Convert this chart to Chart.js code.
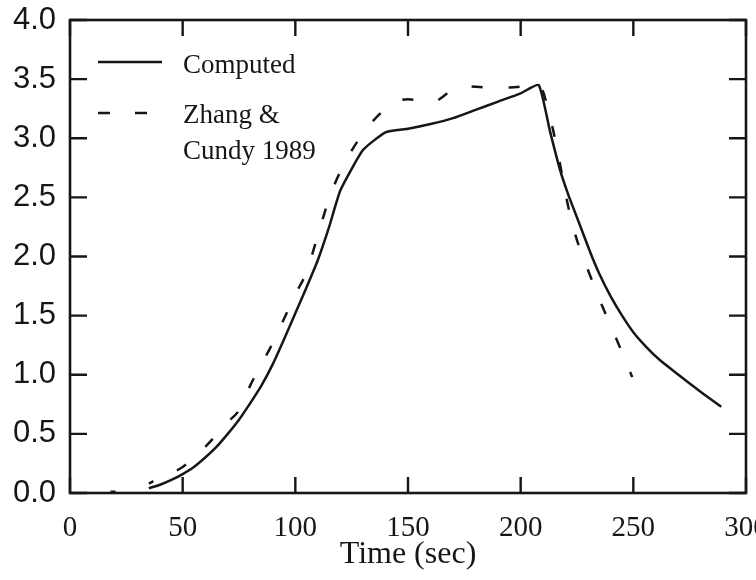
<!DOCTYPE html>
<html>
<head>
<meta charset="utf-8">
<script src="https://cdn.jsdelivr.net/npm/chart.js@4.4.1/dist/chart.umd.min.js"></script>
<style>
  html, body { margin: 0; padding: 0; background: #ffffff; }
  canvas { display: block; }
</style>
</head>
<body>
<canvas id="c" width="756" height="580"></canvas>
<script>
// ---- data ----
const computedTime = [35, 40, 45, 50, 55, 60, 65, 70, 75, 80, 85, 90, 95, 100, 105, 110, 115, 120, 130, 140, 150, 160, 170, 180, 190, 200, 208, 213, 217.5, 221, 225, 231, 235, 240, 245, 250, 256, 262, 268, 274, 281, 289];
const computedVal  = [0.04, 0.07, 0.11, 0.16, 0.22, 0.30, 0.39, 0.50, 0.62, 0.76, 0.91, 1.09, 1.30, 1.52, 1.74, 1.97, 2.25, 2.56, 2.90, 3.05, 3.08, 3.12, 3.17, 3.24, 3.31, 3.38, 3.45, 3.06, 2.73, 2.53, 2.33, 2.03, 1.85, 1.66, 1.50, 1.36, 1.23, 1.12, 1.03, 0.94, 0.84, 0.73];

const zhangTime = [18, 23, 29, 35, 40, 50, 60, 70, 75, 80, 90, 100, 105, 110, 115, 120, 130, 140, 145, 150, 160, 170, 175, 185, 195, 208, 214, 217, 220, 224, 230, 236, 243, 249.5];
const zhangVal  = [0.01, 0.01, null, 0.08, 0.13, 0.22, 0.39, 0.60, 0.70, 0.91, 1.27, 1.68, 1.87, 2.18, 2.49, 2.72, 3.04, 3.25, 3.31, 3.33, 3.30, 3.41, 3.44, 3.43, 3.43, 3.45, 3.10, 2.83, 2.52, 2.20, 1.88, 1.59, 1.28, 0.98];

const xTicks = [0, 50, 100, 150, 200, 250, 300];
const yTicks = [0.0, 0.5, 1.0, 1.5, 2.0, 2.5, 3.0, 3.5, 4.0];

const legendLabels = [["Computed"], ["Zhang &", "Cundy 1989"]];
const xTitle = "Time (sec)";

// ---- build ----
const INK = '#161616';
const SERIF = '"Liberation Serif", "Times New Roman", serif';
const SANS = '"Liberation Sans", Arial, sans-serif';

function pts(xs, ys) { return xs.map((x, i) => ({ x: x, y: ys[i] })); }

const boxPlugin = {
  id: 'boxTicks',
  afterDraw(chart) {
    const ctx = chart.ctx;
    const a = chart.chartArea;
    const xs = chart.scales.x, ys = chart.scales.y;
    ctx.save();
    ctx.strokeStyle = INK;
    ctx.lineWidth = 2.6;
    ctx.lineCap = 'butt';
    ctx.strokeRect(a.left, a.top, a.right - a.left, a.bottom - a.top);
    ctx.lineWidth = 2.4;
    const tx = 16, ty = 17;
    ctx.beginPath();
    xTicks.forEach(v => {
      const p = xs.getPixelForValue(v);
      ctx.moveTo(p, a.bottom); ctx.lineTo(p, a.bottom - tx);
      ctx.moveTo(p, a.top); ctx.lineTo(p, a.top + tx);
    });
    yTicks.forEach(v => {
      const p = ys.getPixelForValue(v);
      ctx.moveTo(a.left, p); ctx.lineTo(a.left + ty, p);
      ctx.moveTo(a.right, p); ctx.lineTo(a.right - ty, p);
    });
    ctx.stroke();

    // legend inside the plot
    ctx.lineWidth = 2.4;
    ctx.beginPath();
    ctx.setLineDash([]);
    ctx.moveTo(98, 62); ctx.lineTo(162, 62);
    ctx.stroke();
    ctx.beginPath();
    ctx.setLineDash([12, 25]);
    ctx.moveTo(98, 113); ctx.lineTo(150, 113);
    ctx.stroke();
    ctx.setLineDash([]);
    ctx.fillStyle = INK;
    ctx.font = '27px ' + SERIF;
    ctx.textAlign = 'left';
    ctx.textBaseline = 'alphabetic';
    ctx.fillText(legendLabels[0][0], 183, 73);
    ctx.fillText(legendLabels[1][0], 183, 123);
    ctx.fillText(legendLabels[1][1], 183, 159);
    ctx.restore();
  }
};

new Chart(document.getElementById('c'), {
  type: 'line',
  data: {
    datasets: [
      {
        label: legendLabels[0].join(' '),
        data: pts(computedTime, computedVal),
        borderColor: INK,
        borderWidth: 2.5,
        borderJoinStyle: 'round',
        pointRadius: 0,
        fill: false,
        tension: 0.15
      },
      {
        label: legendLabels[1].join(' '),
        data: pts(zhangTime, zhangVal),
        borderColor: INK,
        borderWidth: 2.5,
        borderDash: [11, 26],
        borderDashOffset: 6,
        pointRadius: 0,
        fill: false,
        spanGaps: false,
        cubicInterpolationMode: 'monotone'
      }
    ]
  },
  options: {
    responsive: false,
    devicePixelRatio: 1,
    animation: false,
    layout: { padding: { top: 20, right: 10, left: 0, bottom: 0 } },
    plugins: { legend: { display: false }, tooltip: { enabled: false } },
    scales: {
      x: {
        type: 'linear',
        min: 0, max: 300,
        afterBuildTicks(s) { s.ticks = xTicks.map(v => ({ value: v })); },
        afterFit(s) { s.height = 87; s.paddingLeft = 0; s.paddingRight = 0; },
        grid: { display: false, drawTicks: false },
        border: { display: false },
        ticks: {
          color: INK,
          font: { family: SERIF, size: 29 },
          padding: 18,
          maxRotation: 0,
          autoSkip: false,
          callback: v => String(v)
        },
        title: {
          display: true,
          text: xTitle,
          color: INK,
          font: { family: SERIF, size: 32 },
          padding: { top: 0, bottom: 6 }
        }
      },
      y: {
        type: 'linear',
        min: 0, max: 4,
        afterBuildTicks(s) { s.ticks = yTicks.map(v => ({ value: v })); },
        afterFit(s) { s.width = 70; s.paddingTop = 0; s.paddingBottom = 0; },
        grid: { display: false, drawTicks: false },
        border: { display: false },
        ticks: {
          color: INK,
          font: { family: SANS, size: 31 },
          padding: 14,
          autoSkip: false,
          callback: v => Number(v).toFixed(1)
        }
      }
    }
  },
  plugins: [boxPlugin]
});
</script>
</body>
</html>
